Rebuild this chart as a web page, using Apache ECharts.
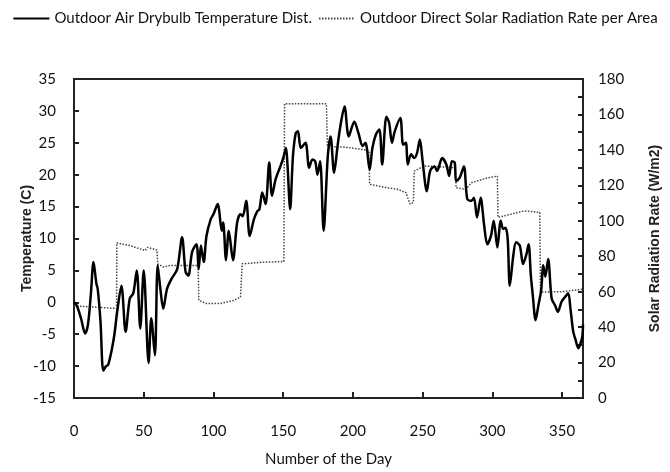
<!DOCTYPE html>
<html>
<head>
<meta charset="utf-8">
<script src="https://cdn.jsdelivr.net/npm/echarts@6/dist/echarts.min.js"></script>
<style>
  html, body { margin: 0; padding: 0; background: #fff; }
  #chart-container { width: 670px; height: 472px; }
</style>
</head>
<body>
<div id="chart-container"></div>
<script>
// [day, temperature C]
var tempData = [
    [0, 0], [2, -0.5], [5, -2.5], [8, -4.9], [10, -3.5], [12, 1], [14, 6.3], [16, 3], [17, 2.1],
    [19, -3], [21, -10.7], [23, -10], [24.5, -9.8], [27, -7.5], [29, -5], [31, -1.4], [34, 2.6],
    [37, -4.6], [40, 0.6], [42.5, 1.4], [45, 5], [47.5, -4.1], [50, 5], [53.5, -9.5], [55.4, -2.5],
    [58, -8.3], [60, 5.8], [62, 2], [64, -1], [66.7, 2.1], [70, 3.7], [74, 5.2], [77.5, 10.2],
    [80, 4.8], [82, 4.2], [84.7, 7.9], [87.8, 9.1], [89.4, 5.2], [91, 8.9], [93, 6.3], [95, 10.4],
    [98, 13], [100, 13.8], [103, 15.4], [106, 11.2], [107, 12.5], [109, 6.6], [111, 11.2], [114, 6.6],
    [117, 12.5], [119.4, 13.8], [121, 13.5], [123.5, 15.9], [126, 10.4], [129, 13], [131.5, 14.3],
    [133, 14.6], [135, 17.2], [137.4, 15.4], [140, 21.9], [142, 16.7], [144.6, 19.3], [148, 21.3],
    [150, 22.6], [152, 24.2], [153, 21.9], [155, 14.6], [157, 22.9], [159, 26.5], [160.6, 26.8],
    [162.6, 24.2], [166, 25], [168.6, 21.1], [171, 22.4], [173, 22.1], [174.6, 20], [176.5, 22.1],
    [179, 11.2], [182, 22.9], [184, 26], [186.5, 20.3], [189, 24.5], [191, 27.6], [194, 30.7],
    [197, 26], [201, 28.3], [204, 26.5], [207, 24.5], [209, 25], [212, 20.8], [214, 24.2],
    [216.5, 26.3], [219, 27.1], [221, 21.6], [224, 29.1], [226, 28.1], [228, 25], [230, 26.8],
    [234, 28.9], [236, 24.7], [238, 25], [239.3, 21.6], [241.7, 23.2], [244, 22.6], [246, 23.4],
    [248, 25.5], [250, 22.1], [253, 17.4], [255.4, 20.6], [258.5, 21.3], [260.4, 20.6], [264, 22.6],
    [267, 21.6], [269, 19.8], [271, 22.1], [273, 21.9], [274, 19], [276.5, 19.5], [279.6, 21.3],
    [282, 16.2], [285, 15.9], [286.8, 16.4], [289, 13.3], [291.6, 16.4], [294, 12.3], [296.4, 9.1],
    [299, 10.4], [301, 12.8], [303.6, 8.6], [306, 12.8], [307.7, 11.5], [309.4, 11.7], [311, 9.9],
    [312.5, 2.6], [315, 7.3], [317, 9.4], [319.7, 8.9], [322, 6], [324.5, 7.6], [326, 9.1],
    [327.6, 4.2], [329, 1.1], [331, -2.8], [333, -0.5], [335, 1.9], [336.5, 5.8], [338, 4],
    [340, 6.8], [342.5, 0.6], [345, -0.5], [347, -1.5], [349.6, 0.1], [352, 0.8], [354.4, 1.4],
    [356, -1], [358, -4.6], [359.7, -5.9], [361.6, -7.2], [362.8, -6.7], [364.5, -5.4], [365, -3.5]
];

// [day, W/m2] step-like monthly solar radiation
var solarData = [
    [0, 52], [15, 51.3], [30.5, 50.5], [30.7, 87.5], [40, 86], [51, 83.2], [52.7, 85], [59.5, 83.5],
    [60, 75.7], [64, 73.9], [69, 74.8], [89, 74.8], [89.5, 55.1], [95, 53.3], [105, 53.3],
    [114.6, 55.1], [119.4, 57], [120.6, 75.7], [135, 76.6], [150.5, 77], [151, 166], [165, 166],
    [181, 166], [181.7, 142], [195, 141.5], [207, 140.2], [211.5, 139.5], [212, 120.6], [222, 119],
    [232, 117.8], [238, 115.9], [241, 109.4], [243.4, 110.3], [244, 128], [251, 130.9], [262, 130.5],
    [273.5, 130], [274, 118.7], [281, 117.8], [285, 121.5], [297, 124.3], [303.6, 125.2],
    [304, 101.9], [323, 105.6], [334, 104.7], [334.5, 59.8], [350, 60], [364, 61.3], [365, 61.3]
];

var tempName = 'Outdoor Air Drybulb Temperature Dist.';
var solarName = 'Outdoor Direct Solar Radiation Rate per Area';

var narrow = "Lato, 'DejaVu Sans Condensed', sans-serif";
var axisColor = '#222';

var chartDom = document.getElementById('chart-container');
var myChart = echarts.init(chartDom);

var option = {
    animation: false,
    legend: {
        top: 6,
        left: 'center',
        itemWidth: 36,
        itemHeight: 10,
        itemGap: 6,
        itemStyle: { opacity: 0 },
        textStyle: { fontFamily: narrow, fontSize: 15, color: '#111' },
        data: [tempName, solarName]
    },
    grid: {
        left: 74, right: 87, top: 79, bottom: 72,
        show: true,
        borderColor: axisColor,
        borderWidth: 2
    },
    xAxis: {
        type: 'value',
        min: 0,
        max: 365,
        interval: 50,
        name: 'Number of the Day',
        nameLocation: 'middle',
        nameMoveOverlap: false,
        nameGap: 54,
        nameTextStyle: { fontFamily: narrow, fontSize: 15, color: '#111' },
        axisLine: { onZero: false, lineStyle: { color: axisColor, width: 2 } },
        axisTick: { inside: true, length: 6, lineStyle: { color: axisColor, width: 2 } },
        axisLabel: { showMaxLabel: false, margin: 26, fontFamily: narrow, fontSize: 15, color: '#111' },
        splitLine: { show: false }
    },
    yAxis: [
        {
            type: 'value',
            min: -15,
            max: 35,
            interval: 5,
            name: 'Temperature (C)',
            nameLocation: 'middle',
            nameMoveOverlap: false,
            nameRotate: 90,
            nameGap: 40,
            nameTextStyle: { fontFamily: 'Liberation Sans', fontWeight: 'bold', fontSize: 14, color: '#222' },
            axisLine: { show: true, onZero: false, lineStyle: { color: axisColor, width: 2 } },
            axisTick: { show: true, inside: true, length: 5, lineStyle: { color: axisColor, width: 2 } },
            axisLabel: { margin: 18, fontFamily: narrow, fontSize: 15, color: '#111' },
            splitLine: { show: false }
        },
        {
            type: 'value',
            min: 0,
            max: 180,
            interval: 10,
            position: 'right',
            name: 'Solar Radiation Rate (W/m2)',
            nameLocation: 'middle',
            nameMoveOverlap: false,
            nameRotate: 90,
            nameGap: 65,
            nameTextStyle: { fontFamily: 'Liberation Sans', fontWeight: 'bold', fontSize: 14, color: '#222' },
            axisLine: { show: true, onZero: false, lineStyle: { color: axisColor, width: 2 } },
            axisTick: { show: true, inside: true, length: 5, lineStyle: { color: axisColor, width: 2 } },
            axisLabel: {
                margin: 15, fontFamily: narrow, fontSize: 15, color: '#111',
                formatter: function (v) { return v % 20 === 0 ? v : ''; }
            },
            splitLine: { show: false }
        }
    ],
    series: [
        {
            name: tempName,
            type: 'line',
            yAxisIndex: 0,
            data: tempData,
            symbol: 'none',
            smooth: 0.3,
            lineStyle: { color: '#000', width: 2.5 },
            itemStyle: { color: '#000' },
            z: 3
        },
        {
            name: solarName,
            type: 'line',
            yAxisIndex: 1,
            data: solarData,
            symbol: 'none',
            lineStyle: { color: '#444', width: 1.5, type: [1.5, 1.5] },
            itemStyle: { color: '#444' },
            z: 2
        }
    ]
};

myChart.setOption(option);
</script>
</body>
</html>
